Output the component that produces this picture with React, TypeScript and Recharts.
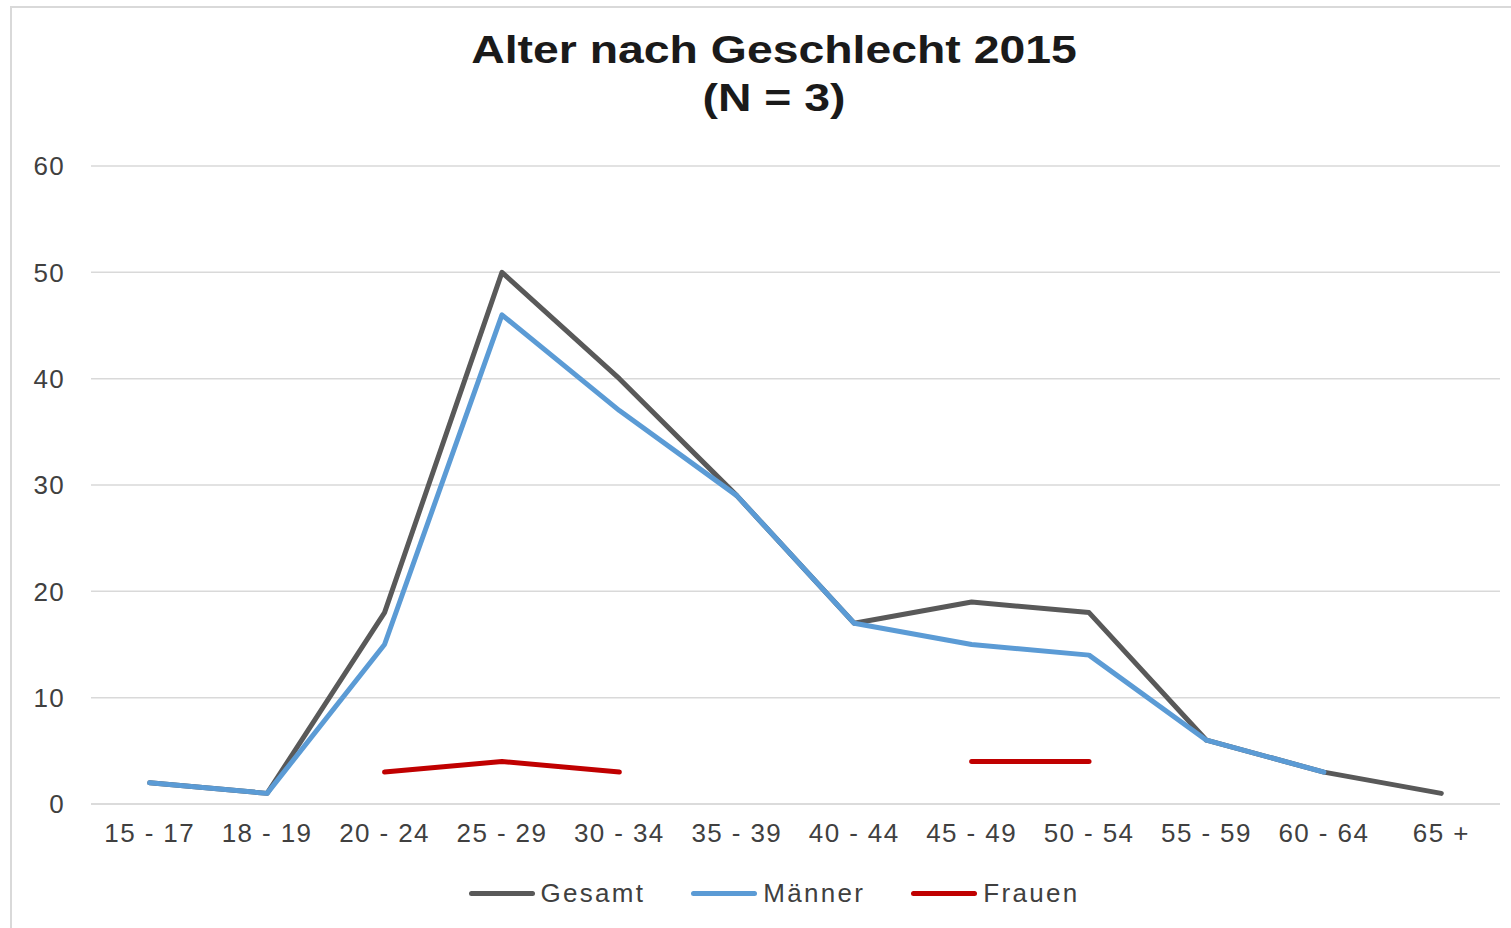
import { LineChart, Line, XAxis, YAxis, CartesianGrid, Legend } from 'recharts';

const ageGroups = ['15 - 17', '18 - 19', '20 - 24', '25 - 29', '30 - 34', '35 - 39', '40 - 44', '45 - 49', '50 - 54', '55 - 59', '60 - 64', '65 +'];
const gesamt = [2, 1, 18, 50, 40, 29, 17, 19, 18, 6, 3, 1];
const maenner = [2, 1, 15, 46, 37, 29, 17, 15, 14, 6, 3, null];
const frauen = [null, null, 3, 4, 3, null, null, 4, 4, null, null, null];
const yTicks = [0, 10, 20, 30, 40, 50, 60];

const seriesNames = ['Gesamt', 'Männer', 'Frauen'];
const seriesColors: Record<string, string> = {
  Gesamt: '#595959',
  Männer: '#5B9BD5',
  Frauen: '#C00000',
};

const chartData = ageGroups.map((group, i) => ({
  group,
  Gesamt: gesamt[i],
  Männer: maenner[i],
  Frauen: frauen[i],
}));

const FONT = '"Liberation Sans", Arial, sans-serif';

// legend drawn by hand so the line swatches look like the Excel ones (and keep series order)
function LineLegend() {
  return (
    <div style={{ display: 'flex', justifyContent: 'center', alignItems: 'center', gap: 46, fontFamily: FONT }}>
      {seriesNames.map((name) => (
        <div key={name} style={{ display: 'flex', alignItems: 'center' }}>
          <div style={{ width: 66, height: 5, borderRadius: 3, background: seriesColors[name], marginRight: 6 }} />
          <span style={{ fontSize: 26, letterSpacing: 2.3, color: '#404040' }}>{name}</span>
        </div>
      ))}
    </div>
  );
}

export default function App() {
  return (
    <div style={{ position: 'absolute', left: 0, top: 0, width: 1511, height: 928, overflow: 'hidden', background: '#fff' }}>
      <div style={{ position: 'absolute', left: 10, top: 6, width: 1520, height: 940, border: '2px solid #d9d9d9' }} />
      <div
        style={{
          position: 'absolute', left: 0, width: 1548, top: 31, textAlign: 'center',
          fontFamily: FONT, fontWeight: 'bold', fontSize: 38, lineHeight: '38px', color: '#1a1a1a',
          transform: 'scaleX(1.22)', transformOrigin: '774px 0',
        }}
      >
        <div>Alter nach Geschlecht 2015</div>
        <div style={{ marginTop: 10 }}>(N = 3)</div>
      </div>
      <div style={{ position: 'absolute', left: 0, top: 0 }}>
        <LineChart width={1511} height={928} data={chartData} margin={{ top: 166, right: 11, left: 31, bottom: 94 }}>
          <CartesianGrid vertical={false} stroke="#d9d9d9" strokeWidth={1.5} />
          <XAxis
            dataKey="group"
            height={30}
            padding={{ left: 58.7, right: 58.7 }}
            axisLine={{ stroke: '#d9d9d9', strokeWidth: 1.5 }}
            tickLine={false}
            tickSize={0}
            tickMargin={20}
            interval={0}
            tick={{ fill: '#404040', fontSize: 26, fontFamily: FONT, letterSpacing: 1.4 }}
          />
          <YAxis
            width={60}
            domain={[0, 60]}
            ticks={yTicks}
            axisLine={false}
            tickLine={false}
            tickSize={0}
            tickMargin={26}
            tick={{ fill: '#404040', fontSize: 26, fontFamily: FONT, letterSpacing: 1.3 }}
          />
          <Legend
            layout="horizontal"
            verticalAlign="middle"
            align="center"
            content={<LineLegend />}
            wrapperStyle={{ top: 878, bottom: 'auto', left: 0, width: 1548 }}
          />
          <Line type="linear" dataKey="Gesamt" stroke={seriesColors.Gesamt} strokeWidth={5} strokeLinecap="round" strokeLinejoin="round" dot={false} isAnimationActive={false} />
          <Line type="linear" dataKey="Männer" stroke={seriesColors['Männer']} strokeWidth={5} strokeLinecap="round" strokeLinejoin="round" dot={false} isAnimationActive={false} />
          <Line type="linear" dataKey="Frauen" stroke={seriesColors.Frauen} strokeWidth={5} strokeLinecap="round" strokeLinejoin="round" dot={false} isAnimationActive={false} />
        </LineChart>
      </div>
    </div>
  );
}
